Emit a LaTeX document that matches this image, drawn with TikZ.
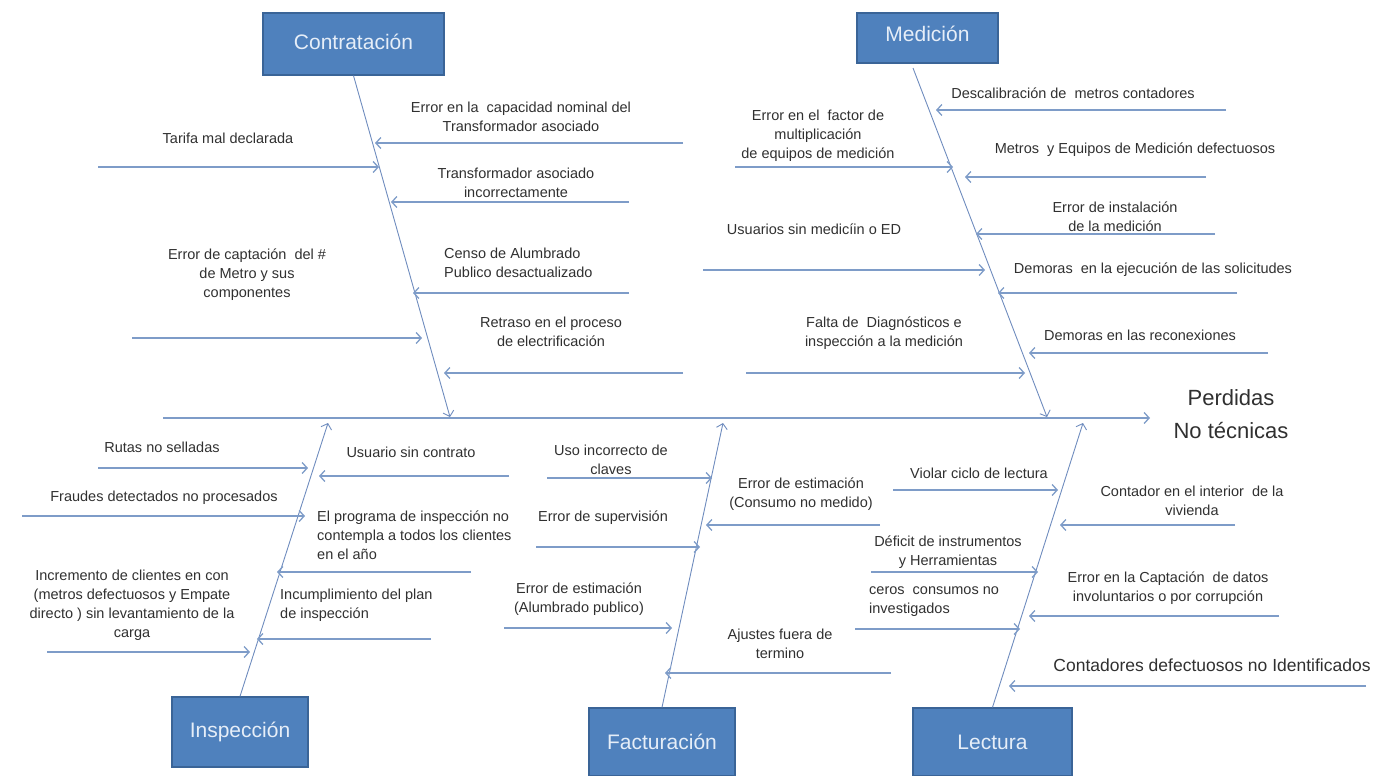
\documentclass[tikz,border=0pt]{standalone}
\usepackage{fontspec}
\setmainfont{Liberation Sans}
\usetikzlibrary{arrows.meta}
\definecolor{boxfill}{HTML}{4F81BD}
\definecolor{boxline}{HTML}{3A6497}
\definecolor{boxtext}{HTML}{E6EEF8}
\definecolor{arr}{HTML}{7E9CC8}
\definecolor{bonec}{HTML}{6F8CBE}
\definecolor{txt}{HTML}{303030}
\newcommand\causearr[4]{%
  \coordinate (#1s) at (#2,#4);
  \coordinate (#1e) at (#3,#4);
  \draw[causearrow] (#1s) -- (#1e);}
\begin{document}
\begin{tikzpicture}[x=1pt,y=-1pt,
  catbox/.style={fill=boxfill,draw=boxline,line width=1.3pt,text=boxtext,
    font=\fontsize{21}{24}\selectfont,inner sep=0pt},
  lbl/.style={font=\fontsize{14.5}{19}\selectfont,text=txt,align=center,inner sep=0pt},
  lbll/.style={lbl,align=left,anchor=west},
  causearrow/.style={draw=arr,line width=1.3pt,-{Straight Barb[length=5pt,width=11pt]}},
  bone/.style={draw=bonec,line width=0.9pt,-{Straight Barb[length=5pt,width=11pt]}},
  spinestyle/.style={draw=arr,line width=1.3pt,-{Straight Barb[length=5pt,width=11pt]}}]
\useasboundingbox (0,0) rectangle (1387,776);

% category boxes
\node[catbox,minimum width=181pt,minimum height=62pt] (contr) at (353.5,44) {\raisebox{5pt}{Contratación}};
\node[catbox,minimum width=141pt,minimum height=50pt] (med) at (927.5,38) {\raisebox{8pt}{Medición}};
\node[catbox,minimum width=136pt,minimum height=70pt] (insp) at (240,732) {Inspección};
\node[catbox,minimum width=146pt,minimum height=68pt] (fact) at (662,742) {Facturación};
\node[catbox,minimum width=159pt,minimum height=68pt] (lect) at (992.5,742) {Lectura};

% effect
\node[font=\fontsize{22}{33}\selectfont,text=txt,align=center,inner sep=0pt] (eff) at (1231,414) {Perdidas\\No técnicas};

% spine
\coordinate (spS) at (163,418);
\coordinate (spE) at (1150,418);
\draw[spinestyle] (spS) -- (spE);

% bones
\coordinate (cbE) at (450,417);
\draw[bone] (contr.south) -- (cbE);
\coordinate (mbS) at (913,68);
\coordinate (mbE) at (1047,417);
\draw[bone] (mbS) -- (mbE);
\coordinate (ibE) at (328,423);
\draw[bone] (insp.north) -- (ibE);
\coordinate (fbE) at (723,423);
\draw[bone] (fact.north) -- (fbE);
\coordinate (lbE) at (1083,423);
\draw[bone] (lect.north) -- (lbE);

% Contratacion
\node[lbl] (l1) at (228,138) {Tarifa mal declarada};
\causearr{a1}{98}{379}{167}
\node[lbl] (l2) at (247,275) {Error de captación \ del \#\\de Metro y sus\\componentes};
\causearr{a2}{132}{422}{338}
\node[lbl] (r1) at (521,117) {Error en la \ capacidad nominal del\\Transformador asociado};
\causearr{b1}{683}{375}{143}
\node[lbl] (r2) at (516,183) {Transformador asociado\\incorrectamente};
\causearr{b2}{629}{391}{202}
\node[lbll] (r3) at (444,263) {Censo de Alumbrado\\Publico desactualizado};
\causearr{b3}{629}{413}{293}
\node[lbl] (r4) at (551,332) {Retraso en el proceso\\de electrificación};
\causearr{b4}{683}{444}{373}

% Medicion
\node[lbl] (m1) at (818,136) {Error en el \ factor de\\multiplicación\\de equipos de medición};
\causearr{c1}{735}{953}{167}
\node[lbl] (m2) at (814,229) {Usuarios sin medicíin o ED};
\causearr{c2}{703}{985}{270}
\node[lbl] (m3) at (884,333) {Falta de \ Diagnósticos e\\inspección a la medición};
\causearr{c3}{746}{1025}{373}
\node[lbl] (n1) at (1073,93) {Descalibración de \ metros contadores};
\causearr{d1}{1226}{936}{110}
\node[lbl] (n2) at (1135,150) {Metros \ y Equipos de Medición defectuosos};
\causearr{d2}{1206}{965}{177}
\node[lbl] (n3) at (1115,217) {Error de instalación\\de la medición};
\causearr{d3}{1215}{976}{234}
\node[lbl] (n4) at (1153,270) {Demoras \ en la ejecución de las solicitudes};
\causearr{d4}{1237}{998}{293}
\node[lbl] (n5) at (1140,335) {Demoras en las reconexiones};
\causearr{d5}{1268}{1029}{353}

% Inspeccion
\node[lbl] (i1) at (162,447) {Rutas no selladas};
\causearr{e1}{98}{308}{468}
\node[lbl] (i2) at (164,498) {Fraudes detectados no procesados};
\causearr{e2}{22}{305}{516}
\node[lbl] (i3) at (132,605) {Incremento de clientes en con\\(metros defectuosos y Empate\\directo ) sin levantamiento de la\\carga};
\causearr{e3}{47}{250}{652}
\node[lbl] (j1) at (411,452) {Usuario sin contrato};
\causearr{f1}{509}{319}{476}
\node[lbll] (j2) at (317,535) {El programa de inspección no\\contempla a todos los clientes\\en el año};
\causearr{f2}{471}{277}{572}
\node[lbll] (j3) at (280,605) {Incumplimiento del plan\\de inspección};
\causearr{f3}{431}{257}{639}

% Facturacion
\node[lbl] (g1) at (611,460) {Uso incorrecto de\\claves};
\causearr{h1}{547}{712}{478}
\node[lbl] (g2) at (603,518) {Error de supervisión};
\causearr{h2}{536}{700}{547}
\node[lbl] (g3) at (579,599) {Error de estimación\\(Alumbrado publico)};
\causearr{h3}{504}{672}{628}
\node[lbl] (g4) at (801,494) {Error de estimación\\(Consumo no medido)};
\causearr{k1}{880}{706}{525}
\node[lbl] (g5) at (780,644) {Ajustes fuera de\\termino};
\causearr{k2}{891}{665}{673}

% Lectura
\node[lbl] (p1) at (979,473) {Violar ciclo de lectura};
\causearr{q1}{893}{1058}{490}
\node[lbl] (p2) at (948,552) {Déficit de instrumentos\\y Herramientas};
\causearr{q2}{871}{1038}{572}
\node[lbll] (p3) at (869,602) {ceros \ consumos no\\investigados};
\causearr{q3}{855}{1020}{629}
\node[lbl] (s1) at (1192,501) {Contador en el interior \ de la\\vivienda};
\causearr{t1}{1235}{1060}{525}
\node[lbl] (s2) at (1168,588) {Error en la Captación \ de datos\\involuntarios o por corrupción};
\causearr{t2}{1279}{1029}{616}
\node[lbl,font=\fontsize{17.5}{21}\selectfont] (s3) at (1212,665) {Contadores defectuosos no Identificados};
\causearr{t3}{1366}{1009}{686}
\end{tikzpicture}
\end{document}
